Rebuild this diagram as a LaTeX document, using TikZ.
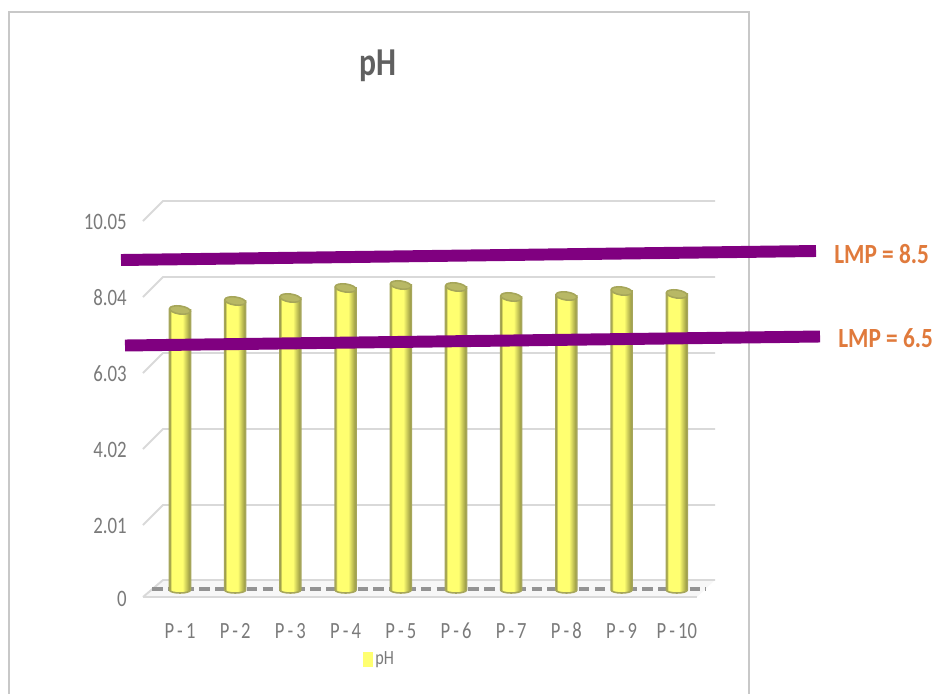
\documentclass[tikz,border=0pt]{standalone}
\usepackage{fontspec}
\setmainfont{Carlito}
\usetikzlibrary{positioning}
\definecolor{framegray}{HTML}{C8C8C8}
\definecolor{gridgray}{HTML}{D9D9D9}
\definecolor{txtgray}{HTML}{7A7A7A}
\definecolor{titlegray}{HTML}{606060}
\definecolor{lmppurple}{HTML}{800080}
\definecolor{lmporange}{HTML}{E07A3C}
\definecolor{baryellow}{HTML}{FFFF70}
\definecolor{barolive}{HTML}{8E8E3E}
\definecolor{baredge}{HTML}{A6A65A}
\definecolor{bartopc}{HTML}{B8B865}
\pgfdeclarehorizontalshading{barshade}{100bp}{color(0bp)=(barolive); color(25bp)=(barolive); color(30bp)=(baryellow); color(56bp)=(baryellow); color(75bp)=(barolive); color(100bp)=(barolive)}

\begin{document}
\begin{tikzpicture}[x=0.02cm, y=-0.02cm,
  gridline/.style={gridgray, line width=1.1pt},
  limitline/.style={lmppurple, line width=6.8pt},
  axislbl/.style={txtgray, font=\fontsize{13.4}{14}\selectfont, inner sep=0pt, xscale=0.8},
  catlbl/.style={txtgray, font=\fontsize{13.2}{14}\selectfont, inner sep=0pt, xscale=0.8},
  lmplbl/.style={lmporange, font=\fontsize{15.8}{17}\selectfont\bfseries, inner sep=0pt, xscale=0.84},
  barbody/.style={shading=barshade, draw=baredge, line width=0.9pt}]
  \useasboundingbox (0,0) rectangle (939,693);
  % chart frame
  \draw[framegray, line width=1pt] (9,700) -- (9,12) -- (749,12) -- (749,700);
  \node[titlegray, font=\fontsize{22.5}{24}\selectfont\bfseries, xscale=0.8, inner sep=0pt] (title) at (378,66) {pH};
  % back wall grid and value axis
  \foreach \g/\v in {201/10.05, 277/8.04, 353/6.03, 429/4.02, 505/2.01} {
    \draw[gridline] (143,\g+20) -- (163,\g) -- (715,\g);
    \node[axislbl, anchor=east] (val-\v) at (127,\g+21) {\v};
  }
  \node[axislbl, anchor=east] (val-0) at (127,599) {0};
  % floor
  \fill[gray!6] (143,597) -- (163,580) -- (715,580) -- (697,597) -- cycle;
  \draw[gridline] (143,597) -- (163,580) -- (715,580);
  \draw[gridline] (143,597) -- (697,597);
  \draw[gray!85, line width=2.5pt, dash pattern=on 6pt off 3pt] (152,589) -- (706,589);
  % bars
  \foreach \i/\t in {1/310, 2/301, 3/298, 4/288, 5/285, 6/287, 7/297, 8/296, 9/291, 10/294} {
    \pgfmathsetmacro{\cx}{180+55.2*(\i-1)}
    \path[barbody] (\cx-10.5,\t) -- (\cx-10.5,590) arc[start angle=180, end angle=360, x radius=10.5, y radius=-3] -- (\cx+10.5,\t) -- cycle;
    \filldraw[fill=bartopc, draw=baredge, line width=0.9pt, rotate around={-8:(\cx,\t)}] (\cx,\t) ellipse[x radius=10.5, y radius=4];
    \node[catlbl] (cat-\i) at (\cx,631) {P\,-\,\i};
  }
  % legend
  \fill[baryellow] (363,652) rectangle (373,667);
  \node[txtgray, font=\fontsize{11.5}{12}\selectfont, inner sep=0pt, xscale=0.8, anchor=west] (legend) at (375,660) {pH};
  % limit lines
  \coordinate (hiA) at (121,260);
  \coordinate (hiB) at (816,251);
  \coordinate (loA) at (125,345.5);
  \coordinate (loB) at (820,336.5);
  \node[lmplbl, anchor=west] (lmp-hi) at (834,254) {LMP = 8.5};
  \node[lmplbl, anchor=west] (lmp-lo) at (838,338) {LMP = 6.5};
  \draw[limitline] (hiA) -- (hiB);
  \draw[limitline] (loA) -- (loB);
\end{tikzpicture}
\end{document}
